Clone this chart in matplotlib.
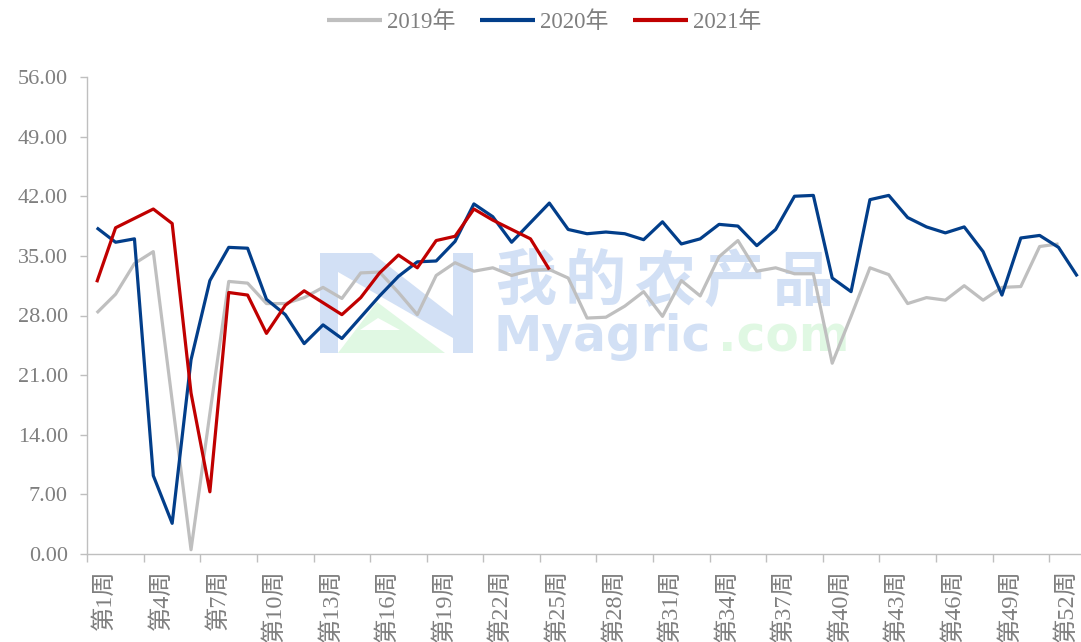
import matplotlib
matplotlib.use('Agg')
import matplotlib.pyplot as plt
import matplotlib.transforms as mtransforms
from matplotlib.patches import Polygon

# ---------------- data ----------------
weeks = [f'第{i}周' for i in range(1, 54)]
label_every = 3
y_ticks = [0, 7, 14, 21, 28, 35, 42, 49, 56]

series_names = ['2019年', '2020年', '2021年']
series_colors = ['#BFBFBF', '#023E8A', '#C00000']

y2019 = [28.3, 30.5, 34.1, 35.5, 18.0, 0.5, 16.5, 32.0, 31.8, 29.4,
         29.4, 30.1, 31.3, 30.0, 33.0, 33.1, 30.7, 28.1, 32.7, 34.2,
         33.2, 33.6, 32.7, 33.3, 33.4, 32.4, 27.7, 27.8, 29.1, 30.8,
         27.9, 32.1, 30.3, 34.9, 36.8, 33.2, 33.6, 32.9, 32.9, 22.4,
         27.9, 33.6, 32.8, 29.4, 30.1, 29.8, 31.5, 29.8, 31.3, 31.4,
         36.1, 36.4]

y2020 = [38.3, 36.6, 37.0, 9.2, 3.6, 22.8, 32.1, 36.0, 35.9, 29.9,
         28.1, 24.7, 26.9, 25.3, 27.8, 30.3, 32.6, 34.3, 34.4, 36.7,
         41.1, 39.6, 36.6, 38.9, 41.2, 38.1, 37.6, 37.8, 37.6, 36.9,
         39.0, 36.4, 37.0, 38.7, 38.5, 36.2, 38.1, 42.0, 42.1, 32.4,
         30.8, 41.6, 42.1, 39.5, 38.4, 37.7, 38.4, 35.5, 30.4, 37.1,
         37.4, 36.0, 32.6]

y2021 = [31.9, 38.3, 39.4, 40.5, 38.8, 18.9, 7.3, 30.7, 30.4, 25.9,
         29.2, 30.9, 29.5, 28.1, 30.1, 33.0, 35.1, 33.6, 36.8, 37.3,
         40.5, 39.2, 38.1, 37.0, 33.4]

series_values = [y2019, y2020, y2021]

watermark_cn = '我的农产品'
watermark_en = 'Myagric'
watermark_dom = '.com'

# ---------------- figure ----------------
W, H = 1081, 642
fig = plt.figure(figsize=(W / 100, H / 100), dpi=100)
fig.patch.set_facecolor('white')

txt_color = '#7F7F7F'
fam = ['Liberation Serif', 'Noto Sans CJK SC', 'DejaVu Sans']

# watermark layer (pixel coordinates)
bg = fig.add_axes([0, 0, 1, 1], zorder=0)
bg.set_xlim(0, W)
bg.set_ylim(H, 0)
bg.axis('off')
wm_blue = '#D2E0F5'
wm_green = '#E0F8E3'
bg.add_patch(Polygon([(320, 253), (372, 253), (453, 316), (453, 253), (473, 253),
                      (473, 353), (453, 353), (453, 338), (338, 272), (338, 353),
                      (320, 353)],
                     closed=True, facecolor=wm_blue, edgecolor='none'))
bg.add_patch(Polygon([(338, 353), (377, 302), (445, 353)], closed=True,
                     facecolor=wm_green, edgecolor='none'))
bg.add_patch(Polygon([(360, 330), (378, 318), (400, 330)], closed=True,
                     facecolor='white', edgecolor='none'))
for k, ch in enumerate(watermark_cn):
    bg.text(495 + 69.5 * k, 283, ch, fontsize=44, color=wm_blue, va='center',
            ha='left', family=['Noto Sans CJK SC'], fontweight='bold')
bg.text(494, 337, watermark_en, fontsize=35, color=wm_blue, va='center', ha='left',
        family=['DejaVu Sans'], fontweight='bold')
bg.text(718, 337, watermark_dom, fontsize=35, color=wm_green, va='center', ha='left',
        family=['DejaVu Sans'], fontweight='bold')

# main axes: category axis extends slightly beyond the right image edge
left_px, right_px, top_px, bottom_px = 87.3, 1086.8, 77, 554
ax = fig.add_axes([left_px / W, (H - bottom_px) / H,
                   (right_px - left_px) / W, (bottom_px - top_px) / H], zorder=1)
ax.patch.set_alpha(0)

for name, vals, col in zip(series_names, series_values, series_colors):
    ax.plot(range(len(vals)), vals, color=col, lw=2.3, label=name,
            solid_joinstyle='round', solid_capstyle='butt')

ax.set_xlim(-0.5, len(weeks) - 0.5)
ax.set_ylim(y_ticks[0], y_ticks[-1])

# y axis
ax.set_yticks(y_ticks)
ax.set_yticklabels([f'{v:.2f}' for v in y_ticks], family=fam, fontsize=16, color=txt_color)
ax.tick_params(axis='y', length=5, width=1, color='#BFBFBF', pad=9)

# x axis: tick marks at category boundaries, labels every third week
bounds = [b - 0.5 for b in range(0, len(weeks), label_every)]
ax.set_xticks(bounds)
ax.set_xticklabels([''] * len(bounds))
lab_pos = list(range(0, len(weeks) - 1, label_every))
ax.set_xticks(lab_pos, minor=True)
ax.set_xticklabels([weeks[i] for i in lab_pos], minor=True, rotation=90,
                   family=fam, fontsize=17.5, color=txt_color)
ax.tick_params(axis='x', which='major', length=6, width=1, color='#BFBFBF')
ax.tick_params(axis='x', which='minor', length=0, pad=11)
offset = mtransforms.ScaledTranslation(8 / 100, 0, fig.dpi_scale_trans)
for lbl in ax.get_xticklabels(minor=True):
    lbl.set_transform(lbl.get_transform() + offset)

for s in ['top', 'right']:
    ax.spines[s].set_visible(False)
for s in ['left', 'bottom']:
    ax.spines[s].set_color('#BFBFBF')
    ax.spines[s].set_linewidth(1)

leg = fig.legend(loc='center', bbox_to_anchor=(544 / W, 1 - 22 / H), ncol=3,
                 frameon=False, handlelength=2.4, handletextpad=0.2,
                 columnspacing=1.1, prop={'family': fam, 'size': 16.5})
for t in leg.get_texts():
    t.set_color(txt_color)
for h in leg.get_lines():
    h.set_linewidth(3)

fig.savefig('out.png', dpi=100)
